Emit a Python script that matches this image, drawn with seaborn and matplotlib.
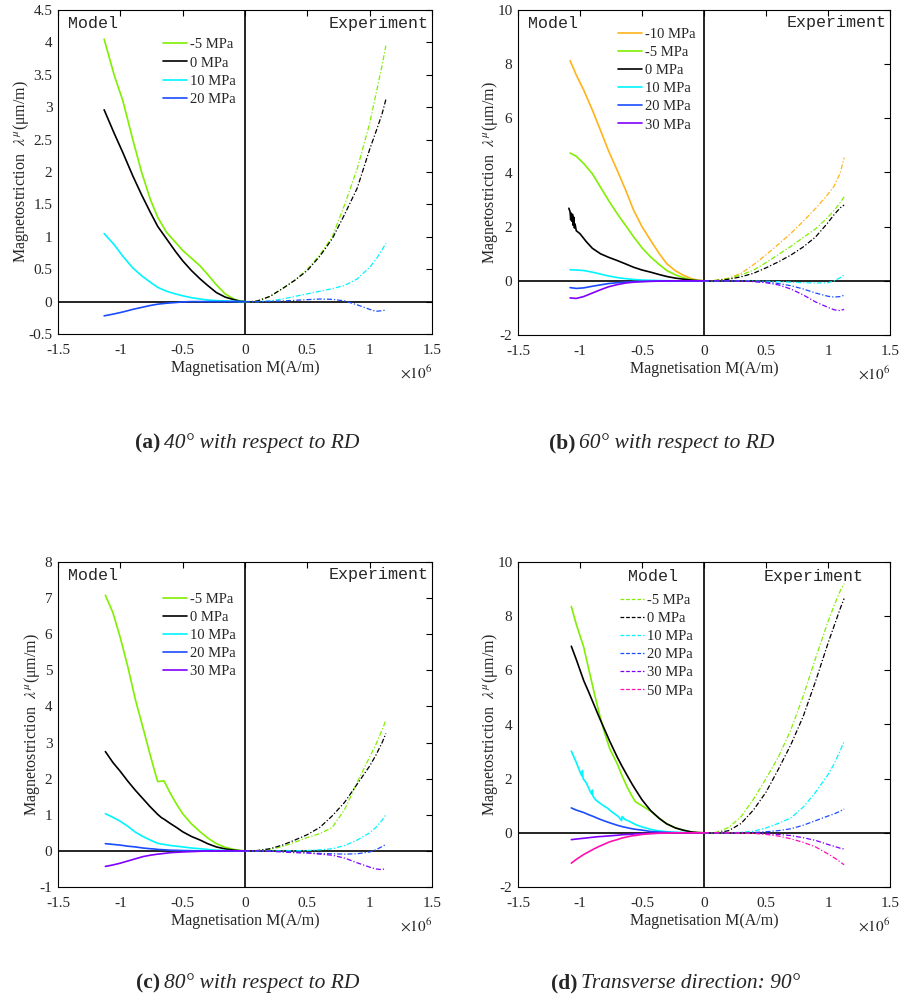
import numpy as np
import matplotlib
matplotlib.use("Agg")
import matplotlib.pyplot as plt
import seaborn as sns
from matplotlib.ticker import FuncFormatter, MultipleLocator

# -------------------------------
# 1. Data (M in 1e6 A/m, lambda in um/m)
# -------------------------------
# colours per applied stress
colors = {
    "-10 MPa": "#ffb31a",
    "-5 MPa": "#80f000",
    "0 MPa": "#000000",
    "10 MPa": "#00f5ff",
    "20 MPa": "#1a4cff",
    "30 MPa": "#8000ff",
    "50 MPa": "#ff10b0",
}

# common experiment grid (positive side)
m_exp = [0, 0.05, 0.1, 0.2, 0.3, 0.4, 0.5, 0.6, 0.7, 0.8, 0.9, 1.0, 1.05, 1.1, 1.13]

# ---- (a) 40 deg ----
m_model_a = [-1.13, -1.05, -0.98, -0.9, -0.83, -0.76, -0.7, -0.63, -0.56, -0.5,
             -0.43, -0.36, -0.3, -0.23, -0.16, -0.09, -0.04, 0]
model_a = {
    "-5 MPa": [4.05, 3.5, 3.1, 2.5, 2.0, 1.58, 1.3, 1.07, 0.92, 0.79,
               0.67, 0.55, 0.42, 0.26, 0.12, 0.04, 0.01, 0],
    "0 MPa": [2.96, 2.6, 2.3, 1.94, 1.65, 1.38, 1.16, 0.97, 0.78, 0.63,
              0.48, 0.35, 0.25, 0.14, 0.07, 0.03, 0.005, 0],
    "10 MPa": [1.05, 0.88, 0.7, 0.52, 0.4, 0.3, 0.22, 0.16, 0.12, 0.09,
               0.06, 0.04, 0.025, 0.015, 0.01, 0.005, 0, 0],
    "20 MPa": [-0.22, -0.19, -0.16, -0.12, -0.09, -0.06, -0.04, -0.025, -0.015, -0.005,
               0, 0, 0, 0, 0, 0, 0, 0],
}
exp_a = {
    "-5 MPa": [0, 0, 0.01, 0.08, 0.2, 0.33, 0.5, 0.72, 1.0, 1.5, 2.05, 2.75, 3.2, 3.65, 3.95],
    "0 MPa": [0, 0, 0.01, 0.08, 0.2, 0.33, 0.48, 0.7, 0.97, 1.35, 1.75, 2.35, 2.62, 2.9, 3.12],
    "10 MPa": [0, 0, 0, 0.01, 0.04, 0.08, 0.12, 0.16, 0.2, 0.25, 0.35, 0.53, 0.65, 0.8, 0.9],
    "20 MPa": [0, 0, 0, 0.005, 0.01, 0.02, 0.03, 0.04, 0.035, 0.01, -0.05, -0.12, -0.15, -0.14, -0.13],
}

# ---- (b) 60 deg ----
m_model_b = [-1.08, -1.03, -0.97, -0.9, -0.835, -0.77, -0.7, -0.63, -0.567, -0.5,
             -0.43, -0.36, -0.3, -0.23, -0.164, -0.1, -0.05, 0]
model_b = {
    "-10 MPa": [8.13, 7.6, 7.04, 6.3, 5.56, 4.8, 4.08, 3.33, 2.6, 2.0,
                1.49, 1.0, 0.63, 0.37, 0.2, 0.08, 0.02, 0],
    "-5 MPa": [4.72, 4.6, 4.33, 3.95, 3.46, 2.97, 2.48, 2.03, 1.62, 1.22,
               0.88, 0.6, 0.38, 0.22, 0.11, 0.04, 0.01, 0],
    "10 MPa": [0.41, 0.4, 0.38, 0.32, 0.25, 0.18, 0.12, 0.08, 0.05, 0.03,
               0.02, 0.01, 0.005, 0, 0, 0, 0, 0],
    "20 MPa": [-0.25, -0.28, -0.26, -0.2, -0.15, -0.1, -0.07, -0.045, -0.03, -0.02,
               -0.01, -0.005, 0, 0, 0, 0, 0, 0],
    "30 MPa": [-0.63, -0.65, -0.58, -0.45, -0.33, -0.22, -0.14, -0.08, -0.05, -0.03,
               -0.02, -0.01, -0.005, 0, 0, 0, 0, 0],
}
# 0 MPa model curve in (b) is noisy near saturation
m_model_b0 = [-1.09, -1.08, -1.075, -1.07, -1.065, -1.06, -1.055, -1.05, -1.045, -1.04,
              -1.03, -1.0, -0.95, -0.9, -0.835, -0.77, -0.7, -0.63, -0.567, -0.5,
              -0.43, -0.36, -0.3, -0.23, -0.164, -0.1, -0.05, 0]
model_b0 = [2.68, 2.55, 2.25, 2.5, 2.2, 2.45, 2.05, 2.35, 1.95, 2.1,
            1.85, 1.74, 1.45, 1.2, 1.0, 0.87, 0.75, 0.62, 0.5, 0.4,
            0.32, 0.23, 0.16, 0.1, 0.06, 0.025, 0.008, 0]
exp_b = {
    "-10 MPa": [0, 0, 0.02, 0.1, 0.28, 0.6, 0.96, 1.35, 1.75, 2.2, 2.67, 3.2, 3.5, 4.0, 4.55],
    "-5 MPa": [0, 0, 0.02, 0.09, 0.22, 0.4, 0.67, 0.97, 1.27, 1.6, 1.92, 2.35, 2.6, 2.9, 3.1],
    "0 MPa": [0, 0, 0.01, 0.06, 0.15, 0.28, 0.48, 0.7, 0.95, 1.25, 1.62, 2.15, 2.45, 2.7, 2.8],
    "10 MPa": [0, 0, 0, 0, 0, -0.01, -0.02, -0.03, -0.05, -0.07, -0.08, -0.07, 0.0, 0.12, 0.22],
    "20 MPa": [0, 0, 0, 0, -0.01, -0.02, -0.04, -0.1, -0.18, -0.3, -0.45, -0.57, -0.6, -0.58, -0.53],
    "30 MPa": [0, 0, 0, 0, -0.01, -0.03, -0.07, -0.15, -0.3, -0.52, -0.78, -0.98, -1.07, -1.1, -1.05],
}

# ---- (c) 80 deg ----
m_model_c = [-1.12, -1.06, -1.0, -0.94, -0.88, -0.82, -0.76, -0.72, -0.70, -0.67, -0.65,
             -0.6, -0.55, -0.5, -0.43, -0.36, -0.3, -0.23, -0.16, -0.09, -0.04, 0]
model_c = {
    "-5 MPa": [7.08, 6.6, 5.9, 5.1, 4.2, 3.43, 2.65, 2.15, 1.92, 1.93, 1.94,
               1.6, 1.3, 1.03, 0.75, 0.53, 0.36, 0.2, 0.1, 0.04, 0.01, 0],
    "0 MPa": [2.75, 2.45, 2.2, 1.93, 1.68, 1.45, 1.22, 1.08, 1.01, 0.92, 0.88,
              0.76, 0.65, 0.53, 0.4, 0.3, 0.2, 0.11, 0.055, 0.02, 0.005, 0],
    "10 MPa": [1.03, 0.93, 0.82, 0.68, 0.52, 0.4, 0.3, 0.24, 0.21, 0.19, 0.18,
               0.15, 0.13, 0.11, 0.08, 0.06, 0.04, 0.02, 0.01, 0, 0, 0],
    "20 MPa": [0.2, 0.18, 0.16, 0.13, 0.11, 0.08, 0.06, 0.05, 0.04, 0.035, 0.03,
               0.02, 0.015, 0.01, 0.005, 0, 0, 0, 0, 0, 0, 0],
    "30 MPa": [-0.43, -0.39, -0.34, -0.28, -0.22, -0.16, -0.12, -0.1, -0.09, -0.08, -0.07,
               -0.05, -0.04, -0.03, -0.02, -0.01, 0, 0, 0, 0, 0, 0],
}
exp_c = {
    "-5 MPa": [0, 0, 0.01, 0.04, 0.12, 0.24, 0.37, 0.48, 0.65, 1.15, 1.9, 2.6, 2.95, 3.35, 3.62],
    "0 MPa": [0, 0, 0.01, 0.06, 0.16, 0.3, 0.45, 0.65, 0.97, 1.35, 1.85, 2.35, 2.65, 3.0, 3.25],
    "10 MPa": [0, 0, 0, 0, 0, 0.005, 0.01, 0.03, 0.06, 0.15, 0.3, 0.5, 0.65, 0.85, 1.0],
    "20 MPa": [0, 0, 0, -0.01, -0.02, -0.03, -0.05, -0.07, -0.08, -0.09, -0.08, -0.03, 0.03, 0.12, 0.18],
    "30 MPa": [0, 0, 0, -0.01, -0.03, -0.05, -0.06, -0.09, -0.12, -0.2, -0.33, -0.45, -0.5, -0.52, -0.48],
}

# ---- (d) 90 deg (transverse) ----
m_model_d = [-1.07, -1.03, -0.97, -0.93, -0.89, -0.85, -0.81, -0.76, -0.70, -0.66, -0.62,
             -0.58, -0.553, -0.5, -0.43, -0.36, -0.3, -0.23, -0.16, -0.1, -0.05, 0]
model_d = {
    "-5 MPa": [8.36, 7.7, 6.86, 6.05, 5.26, 4.5, 3.82, 3.1, 2.55, 2.1, 1.69,
               1.35, 1.15, 1.0, 0.8, 0.53, 0.33, 0.18, 0.09, 0.03, 0.01, 0],
    "0 MPa": [6.89, 6.4, 5.62, 5.2, 4.76, 4.32, 3.9, 3.38, 2.8, 2.45, 2.12,
              1.8, 1.6, 1.22, 0.82, 0.53, 0.33, 0.18, 0.09, 0.03, 0.01, 0],
    "20 MPa": [0.92, 0.84, 0.75, 0.67, 0.6, 0.52, 0.45, 0.37, 0.28, 0.23, 0.19,
               0.15, 0.13, 0.1, 0.05, 0.03, 0.015, 0.005, 0, 0, 0, 0],
    "30 MPa": [-0.25, -0.23, -0.2, -0.18, -0.16, -0.14, -0.13, -0.11, -0.09, -0.07, -0.06,
               -0.05, -0.04, -0.03, -0.02, -0.01, 0, 0, 0, 0, 0, 0],
    "50 MPa": [-1.12, -0.98, -0.8, -0.7, -0.6, -0.51, -0.43, -0.33, -0.25, -0.19, -0.15,
               -0.11, -0.1, -0.06, -0.03, -0.015, -0.01, 0, 0, 0, 0, 0],
}
# 10 MPa model curve in (d) is noisy
m_model_d10 = [-1.07, -1.03, -1.0, -0.985, -0.98, -0.975, -0.95, -0.92, -0.905, -0.9,
               -0.895, -0.87, -0.84, -0.81, -0.78, -0.75, -0.72, -0.69, -0.665, -0.66,
               -0.64, -0.6, -0.55, -0.5, -0.43, -0.36, -0.3, -0.23, -0.16, -0.1, 0]
model_d10 = [3.02, 2.6, 2.25, 2.1, 2.3, 2.0, 1.85, 1.55, 1.42, 1.58,
             1.35, 1.2, 1.1, 1.0, 0.92, 0.8, 0.7, 0.6, 0.45, 0.6,
             0.5, 0.42, 0.3, 0.22, 0.13, 0.07, 0.04, 0.02, 0.01, 0, 0]
exp_d = {
    "-5 MPa": [0, 0, 0.02, 0.2, 0.6, 1.25, 2.0, 2.8, 3.8, 5.05, 6.45, 7.8, 8.4, 8.95, 9.2],
    "0 MPa": [0, 0, 0, 0.08, 0.35, 0.85, 1.5, 2.35, 3.25, 4.3, 5.6, 7.0, 7.65, 8.3, 8.65],
    "10 MPa": [0, 0, 0, 0, 0.02, 0.06, 0.18, 0.35, 0.55, 0.95, 1.5, 2.15, 2.55, 3.05, 3.38],
    "20 MPa": [0, 0, 0, 0, 0, 0.01, 0.04, 0.08, 0.15, 0.28, 0.45, 0.62, 0.7, 0.8, 0.88],
    "30 MPa": [0, 0, 0, 0, -0.01, -0.01, -0.03, -0.06, -0.1, -0.18, -0.28, -0.43, -0.5, -0.57, -0.6],
    "50 MPa": [0, 0, 0, 0, -0.01, -0.02, -0.06, -0.12, -0.22, -0.35, -0.52, -0.78, -0.92, -1.08, -1.18],
}

# -------------------------------
# 2. Style
# -------------------------------
sns.set_theme(style="white")
plt.rcParams["font.family"] = ["Liberation Serif", "DejaVu Serif"]
plt.rcParams["mathtext.fontset"] = "stix"
plt.rcParams["axes.unicode_minus"] = False
plt.rcParams["xtick.direction"] = "in"
plt.rcParams["ytick.direction"] = "in"

TICK_FS = 11
LABEL_FS = 11.5
LEG_FS = 10.5

fig = plt.figure(figsize=(9, 10.08), dpi=100)

# axes rectangles in figure fraction
rects = {
    "a": [58 / 900, 1 - 334 / 1008, 374 / 900, 324 / 1008],
    "b": [518 / 900, 1 - 335 / 1008, 372 / 900, 325 / 1008],
    "c": [58 / 900, 1 - 887 / 1008, 374 / 900, 325 / 1008],
    "d": [518 / 900, 1 - 887 / 1008, 372 / 900, 325 / 1008],
}


def draw_panel(key, m_model, model, m_extra, extra_label, extra_vals, exp, order,
               ylim, ystep, legend_xy, model_xy, exp_xy, legend_dashed=False):
    ax = fig.add_axes(rects[key])
    # model curves (negative M, solid)
    handles = {}
    for lab in order:
        if lab == extra_label:
            x, y = m_extra, extra_vals
        else:
            x, y = m_model, model[lab]
        sns.lineplot(x=x, y=y, ax=ax, color=colors[lab], linewidth=1.2,
                     sort=False, estimator=None)
        handles[lab] = ax.lines[-1]
    # experiment curves (positive M, dash-dot)
    for lab in order:
        sns.lineplot(x=m_exp, y=exp[lab], ax=ax, color=colors[lab], linewidth=0.9,
                     sort=False, estimator=None)
        ax.lines[-1].set_dashes((4, 1.6, 1, 1.6))
        if legend_dashed:
            handles[lab] = ax.lines[-1]

    ax.axhline(0, color="black", linewidth=1.2, zorder=1)
    ax.axvline(0, color="black", linewidth=1.2, zorder=1)

    ax.set_xlim(-1.5, 1.5)
    ax.set_ylim(*ylim)
    ax.xaxis.set_major_locator(MultipleLocator(0.5))
    ax.yaxis.set_major_locator(MultipleLocator(ystep))
    fmt = FuncFormatter(lambda v, p: "%g" % round(v, 3))
    ax.xaxis.set_major_formatter(fmt)
    ax.yaxis.set_major_formatter(fmt)
    ax.tick_params(axis="both", which="both", top=True, right=True, length=4,
                   width=0.8, labelsize=TICK_FS, color="black")
    ax.tick_params(axis="x", pad=7.5)
    ax.tick_params(axis="y", pad=4)
    for s in ax.spines.values():
        s.set_color("black")
        s.set_linewidth(0.8)

    ax.set_xlabel("Magnetisation M(A/m)", fontsize=LABEL_FS, labelpad=2)
    ax.set_ylabel(r"Magnetostriction  $\lambda^{\mu}$(μm/m)", fontsize=LABEL_FS, labelpad=-2)
    ax.text(1.0, -0.12, r"$\times10^{6}$", transform=ax.transAxes,
            ha="right", va="center", fontsize=TICK_FS)

    ax.text(model_xy[0], model_xy[1], "Model", transform=ax.transAxes,
            family="Liberation Mono", fontsize=12, ha=model_xy[2], va="center")
    ax.text(exp_xy[0], exp_xy[1], "Experiment", transform=ax.transAxes,
            family="Liberation Mono", fontsize=12, ha="right", va="center")

    leg = ax.legend([handles[l] for l in order], order, loc="upper left",
                    bbox_to_anchor=legend_xy, frameon=False, fontsize=LEG_FS,
                    handlelength=1.65, handletextpad=0.2, labelspacing=0.34,
                    borderpad=0, borderaxespad=0)
    if legend_dashed:
        for ln in leg.get_lines():
            ln.set_dashes((3, 1.5))
    return ax


draw_panel("a", m_model_a, model_a, None, None, None, exp_a,
           ["-5 MPa", "0 MPa", "10 MPa", "20 MPa"],
           (-0.5, 4.5), 0.5, (0.281, 0.913), (0.027, 0.958, "left"), (0.99, 0.958))
draw_panel("b", m_model_b, model_b, m_model_b0, "0 MPa", model_b0, exp_b,
           ["-10 MPa", "-5 MPa", "0 MPa", "10 MPa", "20 MPa", "30 MPa"],
           (-2, 10), 2, (0.269, 0.946), (0.027, 0.96, "left"), (0.99, 0.96))
draw_panel("c", m_model_c, model_c, None, None, None, exp_c,
           ["-5 MPa", "0 MPa", "10 MPa", "20 MPa", "30 MPa"],
           (-1, 8), 1, (0.281, 0.906), (0.027, 0.96, "left"), (0.99, 0.96))
draw_panel("d", m_model_d, model_d, m_model_d10, "10 MPa", model_d10, exp_d,
           ["-5 MPa", "0 MPa", "10 MPa", "20 MPa", "30 MPa", "50 MPa"],
           (-2, 10), 2, (0.274, 0.903), (0.363, 0.954, "center"), (0.928, 0.954),
           legend_dashed=True)

# -------------------------------
# 3. Sub-captions
# -------------------------------
captions = [
    (160, 443, "(a)", "40° with respect to RD"),
    (575, 443, "(b)", "60° with respect to RD"),
    (160, 983, "(c)", "80° with respect to RD"),
    (577, 983, "(d)", "Transverse direction: 90°"),
]
for xr, yc, tag, txt in captions:
    fig.text(xr / 900, 1 - yc / 1008, tag, ha="right", va="center",
             fontsize=15.5, fontweight="bold")
    fig.text((xr + 4) / 900, 1 - yc / 1008, txt, ha="left", va="center",
             fontsize=15.5, style="italic")

fig.savefig("out.png", dpi=100)
